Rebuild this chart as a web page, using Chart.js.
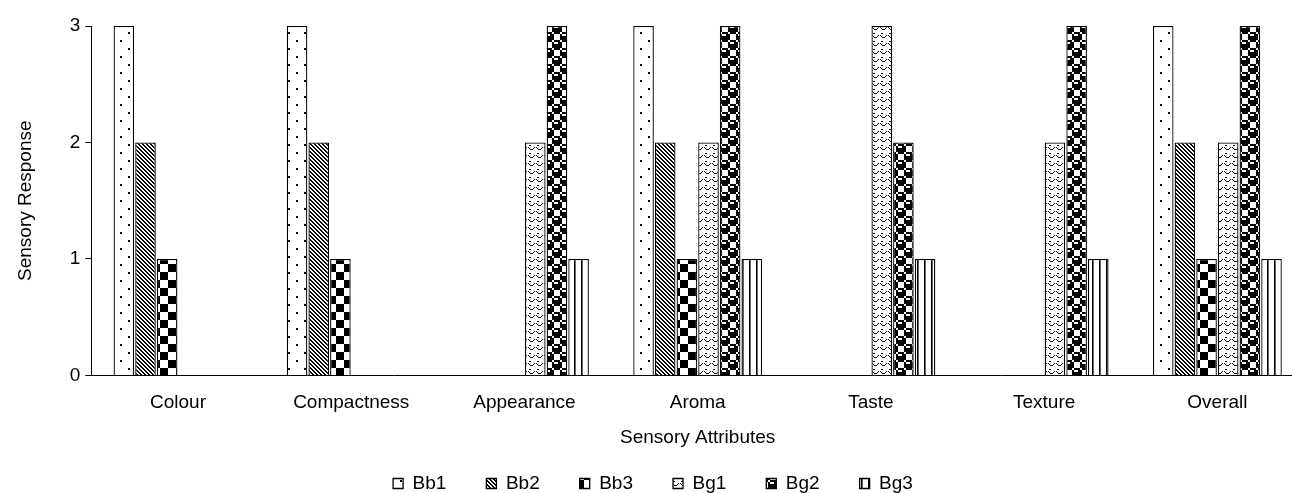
<!DOCTYPE html>
<html><head><meta charset="utf-8">
<script src="https://cdn.jsdelivr.net/npm/chart.js@4/dist/chart.umd.min.js"></script>
<style>html,body{margin:0;padding:0;background:#fff;overflow:hidden}#wrap{width:1292px;height:493px;position:relative;overflow:hidden}</style>
</head><body><div id="wrap"><canvas id="c" width="1304" height="503"></canvas></div>
<script>
const categories = ['Colour','Compactness','Appearance','Aroma','Taste','Texture','Overall'];
const seriesNames = ['Bb1','Bb2','Bb3','Bg1','Bg2','Bg3'];
const Bb1 = [3,3,0,3,0,0,3];
const Bb2 = [2,2,0,2,0,0,2];
const Bb3 = [1,1,0,1,0,0,1];
const Bg1 = [0,0,2,2,3,2,2];
const Bg2 = [0,0,3,3,2,3,3];
const Bg3 = [0,0,1,1,1,1,1];
const yTicks = [0,1,2,3];
const seriesValues = [Bb1,Bb2,Bb3,Bg1,Bg2,Bg3];

const FONT = "'Liberation Sans', Arial, sans-serif";
const FS = 19;

function bitmapPattern(rows, scale, w) {
  const n = rows.length;
  const width = w || 8;
  const c = document.createElement('canvas');
  c.width = width*scale; c.height = n*scale;
  const g = c.getContext('2d');
  g.fillStyle = '#fff'; g.fillRect(0,0,c.width,c.height);
  g.fillStyle = '#000';
  for (let y=0;y<n;y++) for (let x=0;x<width;x++) {
    if (rows[y] & (1 << (width-1-x))) g.fillRect(x*scale,y*scale,scale,scale);
  }
  return document.getElementById('c').getContext('2d').createPattern(c,'repeat');
}
function vlinePattern() {
  const c = document.createElement('canvas');
  c.width = 7; c.height = 4;
  const g = c.getContext('2d');
  g.fillStyle = '#fff'; g.fillRect(0,0,7,4);
  g.fillStyle = '#000'; g.fillRect(0,0,1,4);
  g.fillStyle = '#666'; g.fillRect(1,0,1,4);
  return document.getElementById('c').getContext('2d').createPattern(c,'repeat');
}
const patterns = [
  bitmapPattern([0x80,0,0,0,0x08,0,0,0], 2),
  bitmapPattern([0x33,0x99,0xcc,0x66,0x33,0x99,0xcc,0x66], 1),
  bitmapPattern([0xf0,0xf0,0xf0,0xf0,0x0f,0x0f,0x0f,0x0f], 2),
  bitmapPattern([0x00,0x60,0x00,0x82,0x44,0x38,0x00,0x00], 1),
  bitmapPattern([0x77,0x98,0xf8,0xf8,0x77,0x89,0x8f,0x8f], 2),
  vlinePattern()
];

const legendShift = {
  id: 'legendShift',
  afterLayout(chart) {
    if (chart.legend) { chart.legend.left -= 6; chart.legend.right -= 6; }
  }
};

const ctx = document.getElementById('c').getContext('2d');
new Chart(ctx, {
  type: 'bar',
  data: {
    labels: categories,
    datasets: seriesNames.map((n,i) => ({
      label: n, data: seriesValues[i],
      backgroundColor: patterns[i], borderColor: '#000', borderWidth: 1.3,
      categoryPercentage: 0.75, barPercentage: 0.95
    }))
  },
  plugins: [legendShift],
  options: {
    responsive: false, animation: false, devicePixelRatio: 1,
    layout: { padding: { left: 14, right: 0, top: 26, bottom: 0 } },
    plugins: {
      legend: { position: 'bottom', labels: { color: '#000', font: { family: FONT, size: FS }, boxWidth: 10, boxHeight: 10, padding: 40 } },
      tooltip: { enabled: false }
    },
    scales: {
      x: {
        grid: { display: false, drawTicks: false, tickLength: 0 },
        border: { color: '#000', width: 1 },
        ticks: { color: '#000', font: { family: FONT, size: FS }, maxRotation: 0, padding: 16 },
        title: { display: true, text: 'Sensory Attributes', color: '#000', font: { family: FONT, size: FS }, padding: { top: -4, bottom: -15 } }
      },
      y: {
        min: 0, max: 3,
        afterBuildTicks: s => { s.ticks = yTicks.map(v => ({ value: v })); },
        grid: { drawOnChartArea: false, drawTicks: true, tickLength: 6, color: '#000' },
        border: { color: '#000', width: 1 },
        ticks: { color: '#000', font: { family: FONT, size: FS }, padding: 5 },
        title: { display: true, text: 'Sensory Response', color: '#000', font: { family: FONT, size: FS }, padding: { top: 0, bottom: 28 } }
      }
    }
  }
});
</script></body></html>
